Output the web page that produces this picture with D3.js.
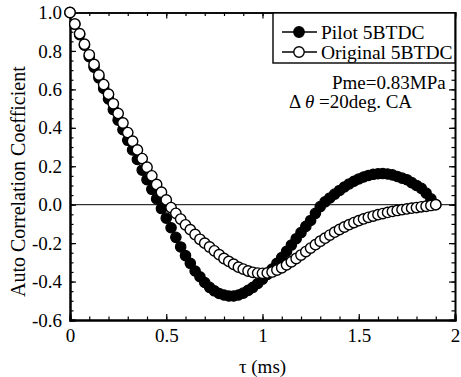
<!DOCTYPE html>
<html>
<head>
<meta charset="utf-8">
<script src="https://cdn.jsdelivr.net/npm/d3@7"></script>
<style>
  body { margin: 0; background: #fff; }
  svg { display: block; }
  text { font-family: 'Liberation Serif', 'Times New Roman', serif; fill: #000; }
  .axis path, .axis line { stroke: #000; }
</style>
</head>
<body>
<div id="chart"></div>
<script>
'use strict';

// Time lag (ms), one sample every 0.025 ms
var tau = d3.range(77).map(function(i) { return i * 0.025; });

// Pilot 5BTDC (filled circles)
var pilotValues = [
  1.00, 0.94, 0.885, 0.83, 0.77, 0.715, 0.66, 0.605, 0.55, 0.495,
  0.44, 0.39, 0.335, 0.285, 0.235, 0.18, 0.13, 0.08, 0.03, -0.02,
  -0.07, -0.12, -0.17, -0.22, -0.265, -0.305, -0.345, -0.375, -0.405, -0.43,
  -0.448, -0.462, -0.47, -0.475, -0.475, -0.47, -0.46, -0.446, -0.43, -0.41,
  -0.388, -0.363, -0.335, -0.305, -0.275, -0.243, -0.21, -0.177, -0.145, -0.113,
  -0.082, -0.045, -0.01, 0.015, 0.035, 0.055, 0.074, 0.092, 0.108, 0.122,
  0.134, 0.144, 0.152, 0.158, 0.161, 0.162, 0.160, 0.155, 0.147, 0.138,
  0.13, 0.115, 0.10, 0.085, 0.06, 0.03, 0.0
];

// Original 5BTDC (open circles)
var originalValues = [
  1.00, 0.94, 0.89, 0.835, 0.78, 0.73, 0.675, 0.625, 0.575, 0.525,
  0.475, 0.425, 0.375, 0.33, 0.285, 0.24, 0.195, 0.15, 0.105, 0.065,
  0.025, -0.015, -0.045, -0.075, -0.105, -0.13, -0.155, -0.18, -0.20, -0.22,
  -0.24, -0.26, -0.28, -0.295, -0.31, -0.325, -0.335, -0.345, -0.352, -0.356,
  -0.357, -0.355, -0.35, -0.34, -0.328, -0.313, -0.297, -0.28, -0.262, -0.244,
  -0.226, -0.208, -0.19, -0.174, -0.158, -0.143, -0.129, -0.116, -0.104, -0.093,
  -0.083, -0.074, -0.066, -0.059, -0.052, -0.046, -0.040, -0.035, -0.030, -0.026,
  -0.022, -0.018, -0.015, -0.011, -0.008, -0.004, 0.0
];

var seriesNames = ['Pilot 5BTDC', 'Original 5BTDC'];
var xTicks = [0, 0.5, 1, 1.5, 2];
var xTickLabels = ['0', '0.5', '1', '1.5', '2'];
var yTicks = [-0.6, -0.4, -0.2, 0.0, 0.2, 0.4, 0.6, 0.8, 1.0];
var yTickLabels = ['-0.6', '-0.4', '-0.2', '0.0', '0.2', '0.4', '0.6', '0.8', '1.0'];
var xMinor = d3.range(0, 21).map(function(i) { return i / 10; });
var yMinor = d3.range(0, 33).map(function(i) { return -0.6 + i * 0.05; });
var notes = ['Pme=0.83MPa', '=20deg. CA'];

// Set the dimensions of the canvas / graph
var W = 461, H = 377;
var margin = {top: 12.5, right: 6, bottom: 57, left: 70};
var width = W - margin.left - margin.right;
var height = H - margin.top - margin.bottom;

var x = d3.scaleLinear().domain([0, 2]).range([0, width]);
var y = d3.scaleLinear().domain([-0.6, 1.0]).range([height, 0]);

var svg = d3.select('#chart').append('svg')
    .attr('width', W)
    .attr('height', H)
  .append('g')
    .attr('transform', 'translate(' + margin.left + ',' + margin.top + ')');

// Axes: ticks point inwards on all four sides
function addAxis(axis, cls, tr, width) {
  var g = svg.append('g').attr('class', 'axis ' + cls).attr('transform', tr).call(axis);
  g.select('.domain').attr('stroke-width', width);
  g.selectAll('.tick line').attr('stroke-width', 1.2);
  g.selectAll('text').style('font-size', '19px').style('font-family', null);
  return g;
}

addAxis(d3.axisBottom(x).tickValues(xMinor).tickSize(-3.5).tickFormat(''),
  'x minor', 'translate(0,' + height + ')', 2);
addAxis(d3.axisBottom(x).tickValues(xTicks).tickSize(-6).tickPadding(9)
  .tickFormat(function(d, i) { return xTickLabels[i]; }),
  'x', 'translate(0,' + height + ')', 2);
addAxis(d3.axisTop(x).tickValues(xMinor).tickSize(-3.5).tickFormat(''), 'x2 minor', '', 1.6);
addAxis(d3.axisTop(x).tickValues(xTicks).tickSize(-6).tickFormat(''), 'x2', '', 1.6);

addAxis(d3.axisLeft(y).tickValues(yMinor).tickSize(-3.5).tickFormat(''), 'y minor', '', 2);
addAxis(d3.axisLeft(y).tickValues(yTicks).tickSize(-6).tickPadding(8)
  .tickFormat(function(d, i) { return yTickLabels[i]; }), 'y', '', 2);
addAxis(d3.axisRight(y).tickValues(yMinor).tickSize(-3.5).tickFormat(''),
  'y2 minor', 'translate(' + width + ',0)', 1.6);
addAxis(d3.axisRight(y).tickValues(yTicks).tickSize(-6).tickFormat(''),
  'y2', 'translate(' + width + ',0)', 1.6);

// Zero line
svg.append('line')
  .attr('x1', 0).attr('x2', width)
  .attr('y1', y(0)).attr('y2', y(0))
  .attr('stroke', '#000').attr('stroke-width', 1);

// Axis titles
svg.append('text')
  .attr('x', x(1)).attr('y', height + 53)
  .attr('text-anchor', 'middle')
  .style('font-size', '19px')
  .text('\u03c4 (ms)');

svg.append('text')
  .attr('transform', 'translate(' + (-45) + ',' + (y(0.12)) + ') rotate(-90)')
  .attr('text-anchor', 'middle')
  .style('font-size', '20px')
  .text('Auto Correlation Coefficient');

// Data points: filled series first, open circles on top
var pilot = tau.map(function(t, i) { return {t: t, v: pilotValues[i]}; });
var original = tau.map(function(t, i) { return {t: t, v: originalValues[i]}; });

svg.selectAll('.pilot')
    .data(pilot)
  .enter().append('circle')
    .attr('class', 'pilot')
    .attr('r', 5.2)
    .attr('cx', function(d) { return x(d.t); })
    .attr('cy', function(d) { return y(d.v); })
    .attr('fill', '#000')
    .attr('stroke', '#000')
    .attr('stroke-width', 1.2);

svg.selectAll('.original')
    .data(original)
  .enter().append('circle')
    .attr('class', 'original')
    .attr('r', 5.2)
    .attr('cx', function(d) { return x(d.t); })
    .attr('cy', function(d) { return y(d.v); })
    .attr('fill', '#fff')
    .attr('stroke', '#000')
    .attr('stroke-width', 1.4);

// Legend
var lx = 203, ly = 0.5, lw = width - lx, lh = 50;
var legend = svg.append('g').attr('transform', 'translate(' + lx + ',' + ly + ')');
legend.append('rect')
  .attr('width', lw).attr('height', lh)
  .attr('fill', '#fff').attr('stroke', '#000').attr('stroke-width', 1.4);

seriesNames.forEach(function(name, i) {
  var cy = 19 + i * 20;
  legend.append('line')
    .attr('x1', 9).attr('x2', 44).attr('y1', cy).attr('y2', cy)
    .attr('stroke', '#000').attr('stroke-width', 1.4);
  legend.append('circle')
    .attr('cx', 26).attr('cy', cy).attr('r', 5.2)
    .attr('fill', i === 0 ? '#000' : '#fff')
    .attr('stroke', '#000').attr('stroke-width', 1.4);
  legend.append('text')
    .attr('x', 48).attr('y', cy + 6.5)
    .style('font-size', '19.5px')
    .text(name);
});

// Operating condition notes
svg.append('text')
  .attr('x', 262).attr('y', 76)
  .style('font-size', '19px')
  .text(notes[0]);

var n2 = svg.append('text')
  .attr('x', 219).attr('y', 95)
  .style('font-size', '19px');
n2.append('tspan').text('\u0394 ');
n2.append('tspan').style('font-style', 'italic').text('\u03b8');
n2.append('tspan').text(' ' + notes[1]);
</script>
</body>
</html>
